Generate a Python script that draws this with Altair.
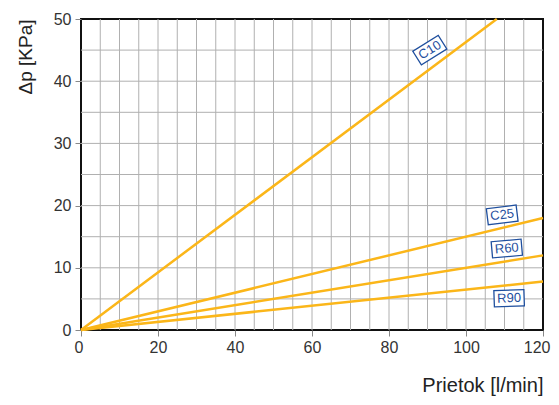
import altair as alt
import pandas as pd

# ---- data ----
series = ["C10", "C25", "R60", "R90"]
end_flow = [108, 120, 120, 120]
end_dp = [50, 18, 12, 7.8]

label_flow = [90.6, 109.4, 110.6, 111.2]
label_dp = [45.0, 18.5, 13.1, 5.1]
label_angle = [328, 353, 355, 358]

x_ticks = [0, 20, 40, 60, 80, 100, 120]
y_ticks = [0, 10, 20, 30, 40, 50]
x_grid = [5, 10, 15, 20, 25, 30, 35, 40, 45, 50, 55, 60, 65, 70, 75, 80, 85, 90, 95, 100, 105, 110, 115]
y_grid = [5, 10, 15, 20, 25, 30, 35, 40, 45]

LINE = "#fbb619"
BLUE = "#1f4f9e"
FONT = "Liberation Sans"

rows = []
for s, fx, fy in zip(series, end_flow, end_dp):
    rows.append({"series": s, "flow": 0, "dp": 0})
    rows.append({"series": s, "flow": fx, "dp": fy})
lines_df = pd.DataFrame(rows)
labels_df = pd.DataFrame({"series": series, "flow": label_flow, "dp": label_dp, "angle": label_angle})
xg_df = pd.DataFrame({"flow": x_grid})
yg_df = pd.DataFrame({"dp": y_grid})

xscale = alt.Scale(domain=[0, 120], nice=False, zero=False)
yscale = alt.Scale(domain=[0, 50], nice=False, zero=False)

axis_x = alt.Axis(values=x_ticks, grid=False, domain=False, tickSize=6, tickColor="#888",
                  tickWidth=1, labelFontSize=16, labelColor="#333", labelPadding=3,
                  labelFlush=True, labelFlushOffset=7, labelOverlap=False,
                  title="Prietok [l/min]", titleFontSize=20, titleFontWeight="normal",
                  titleColor="#222", titleX=462, titleY=55, titleAlign="right",
                  titleBaseline="middle")
axis_y = alt.Axis(values=y_ticks, grid=False, domain=False, tickSize=6, tickColor="#888",
                  tickWidth=1, labelFontSize=16, labelColor="#333", labelPadding=4,
                  labelFlush=False, labelOverlap=False,
                  title="Δp [KPa]", titleFontSize=19, titleFontWeight="normal",
                  titleColor="#222", titleX=-56, titleY=0, titleAngle=-90,
                  titleAlign="right", titleBaseline="middle")

X = alt.X("flow:Q", scale=xscale, axis=axis_x)
Y = alt.Y("dp:Q", scale=yscale, axis=axis_y)

grid_v = alt.Chart(xg_df).mark_rule(color="#b0b0b0", strokeWidth=1).encode(x=X)
grid_h = alt.Chart(yg_df).mark_rule(color="#b0b0b0", strokeWidth=1).encode(y=Y)

lines = alt.Chart(lines_df).mark_line(color=LINE, strokeWidth=2.5).encode(
    x=X, y=Y, detail="series:N",
)

boxes = alt.Chart(labels_df).mark_point(
    shape="M-1,-0.54H1V0.54H-1Z", size=900, filled=True, fill="white",
    stroke=BLUE, strokeWidth=1.3, opacity=1
).encode(
    x=X, y=Y, angle=alt.Angle("angle:Q", scale=None),
)

texts = alt.Chart(labels_df).mark_text(font=FONT, fontSize=13, color=BLUE).encode(
    x=X, y=Y, text="series:N", angle=alt.Angle("angle:Q", scale=None),
)

chart = alt.layer(grid_v, grid_h, lines, boxes, texts).properties(
    width=462, height=311,
    autosize=alt.AutoSizeParams(type="none"),
    padding={"left": 73, "top": 11, "right": 8, "bottom": 70},
).configure(font=FONT).configure_view(stroke="#111", strokeWidth=2)

chart.save("out.html", embed_options={"renderer": "svg", "actions": False})
